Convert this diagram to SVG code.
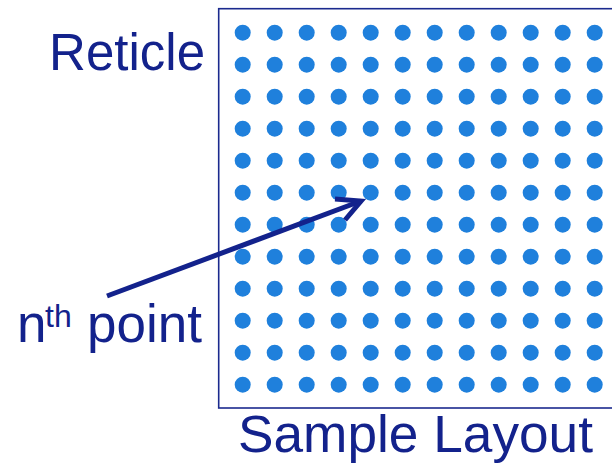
<svg xmlns="http://www.w3.org/2000/svg" width="612" height="463" viewBox="0 0 612 463">
<style>
.lbl{font-family:"Liberation Sans",Arial,sans-serif;font-size:51px;fill:#13228c}
.sup{font-size:32px}
.big{font-size:53px}
.dot{fill:#1f80dc}
</style>
<defs>
<circle id="d" r="8" class="dot"/>
<g id="row">
<use href="#d" x="242.7"/><use href="#d" x="274.7"/><use href="#d" x="306.7"/><use href="#d" x="338.7"/>
<use href="#d" x="370.7"/><use href="#d" x="402.7"/><use href="#d" x="434.7"/><use href="#d" x="466.7"/>
<use href="#d" x="498.7"/><use href="#d" x="530.7"/><use href="#d" x="562.7"/><use href="#d" x="594.7"/>
</g>
</defs>
<rect width="612" height="463" fill="#fff"/>
<g id="reticle">
<rect x="218.7" y="8.7" width="400" height="399.3" fill="none" stroke="#1b2a8e" stroke-width="1.6"/>
<g id="grid">
<use href="#row" y="32.7"/><use href="#row" y="64.7"/><use href="#row" y="96.7"/><use href="#row" y="128.7"/>
<use href="#row" y="160.7"/><use href="#row" y="192.7"/><use href="#row" y="224.7"/><use href="#row" y="256.7"/>
<use href="#row" y="288.7"/><use href="#row" y="320.7"/><use href="#row" y="352.7"/><use href="#row" y="384.7"/>
</g>
</g>
<g id="labels">
<text class="lbl" x="205" y="70" text-anchor="end">Reticle</text>
<text class="lbl" x="238" y="452" textLength="355" lengthAdjust="spacingAndGlyphs">Sample Layout</text>
<text class="lbl big" x="17" y="342">n<tspan class="sup" x="45" y="327">th</tspan><tspan class="big" x="87" y="342">point</tspan></text>
</g>
<g id="connectors" fill="none" stroke="#13228c" stroke-width="5">
<line x1="107" y1="296" x2="361" y2="201"/>
<polyline points="335,199 361,201 345,220" stroke-linejoin="miter"/>
</g>
</svg>
